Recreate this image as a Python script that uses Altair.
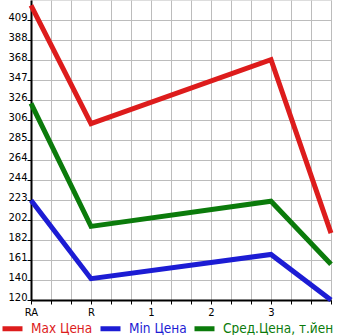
import altair as alt
import pandas as pd

x_labels = ["RA", "R", "1", "2", "3"]
point_x = [0, 1, 4, 5]
max_vals = [424, 302, 368, 189]
min_vals = [223, 142, 167, 120]
avg_vals = [323, 196, 222, 157]
y_labels = ["120", "140", "161", "182", "202", "223", "244", "264", "285",
            "306", "326", "347", "368", "388", "409"]
series = ["Max Цена", "Min Цена", "Сред.Цена, т.йен"]
colors = ["#dd1c1c", "#1c1cd4", "#0b7b0b"]

rows = []
for name, vals in zip(series, [max_vals, min_vals, avg_vals]):
    for i, (x, v) in enumerate(zip(point_x, vals)):
        rows.append({"series": name, "x": x, "v": v, "order": i})
df = pd.DataFrame(rows)

y_min, y_top_tick = 120, 409
step = (y_top_tick - y_min) / 14
y_ticks = [y_min + i * step for i in range(15)]
y_max = y_min + 15 * step
x_ticks = [i / 3 for i in range(16)]

x_label_expr = ("abs(datum.value - round(datum.value)) < 0.01 && round(datum.value) < 5 ? "
                + str(x_labels) + "[round(datum.value)] : ''")
y_label_expr = str(y_labels) + "[round((datum.value - 120) / " + repr(step) + ")]"
label_color_expr = ("datum.value == '" + series[0] + "' ? '" + colors[0] + "' : datum.value == '"
                    + series[1] + "' ? '" + colors[1] + "' : '" + colors[2] + "'")

chart = alt.Chart(df).mark_line(strokeWidth=5, clip=False).encode(
    x=alt.X("x:Q", scale=alt.Scale(domain=[0, 5], nice=False, zero=False),
            axis=alt.Axis(values=x_ticks, labelExpr=x_label_expr, title=None,
                          grid=True, gridColor="#bcbcbc", gridWidth=1,
                          domainColor="#000000", domainWidth=2,
                          tickColor="#000000", tickSize=4, tickWidth=1,
                          labelFont="DejaVu Sans", labelFontSize=10,
                          labelColor="#000000", labelPadding=3,
                          labelFlush=False, labelOverlap=False)),
    y=alt.Y("v:Q", scale=alt.Scale(domain=[y_min, y_max], nice=False, zero=False),
            axis=alt.Axis(values=y_ticks, labelExpr=y_label_expr, title=None,
                          grid=True, gridColor="#bcbcbc", gridWidth=1,
                          domainColor="#000000", domainWidth=2,
                          tickColor="#000000", tickSize=4, tickWidth=1,
                          labelFont="DejaVu Sans", labelFontSize=10,
                          labelColor="#000000", labelPadding=0,
                          labelBaseline="alphabetic",
                          labelFlush=False, labelOverlap=False)),
    color=alt.Color("series:N",
                    scale=alt.Scale(domain=series, range=colors),
                    sort=series,
                    legend=alt.Legend(orient="none", legendX=-31, legendY=316,
                                      direction="horizontal", title=None,
                                      padding=0, symbolOffset=0,
                                      symbolType="stroke", symbolStrokeWidth=5,
                                      symbolSize=400, labelFontSize=13.5,
                                      labelFont="DejaVu Sans Condensed", labelOffset=6,
                                      columnPadding=-3, labelLimit=200,
                                      labelColor=alt.ExprRef(label_color_expr))),
    order="order:Q",
).properties(
    width=300, height=300,
    autosize=alt.AutoSizeParams(type="none"),
    padding={"left": 31, "top": 0, "right": 14, "bottom": 35},
).configure_view(fill="#f5f5f5", stroke=None).configure(background="#ffffff")

chart.save("out.html", embed_options={"renderer": "svg", "actions": False})
